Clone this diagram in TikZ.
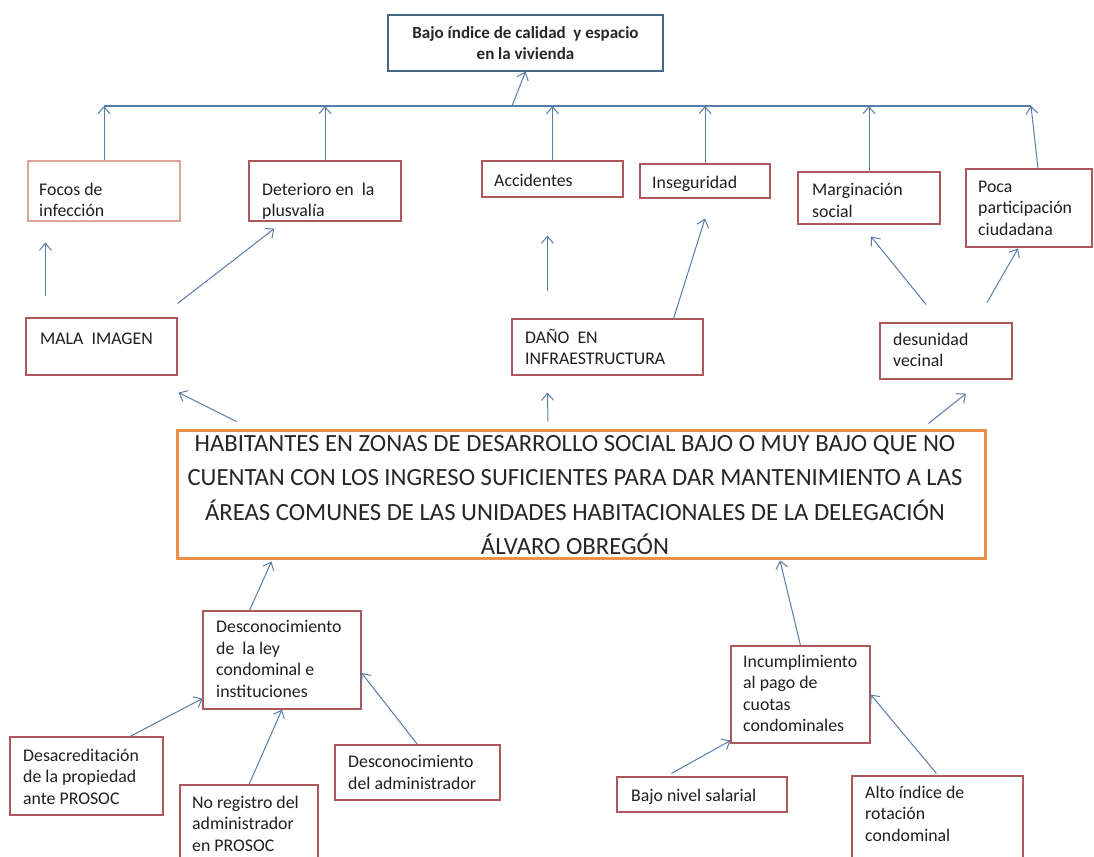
\documentclass[tikz,border=0pt]{standalone}
\usepackage{fontspec}
\setmainfont{Carlito}
\usetikzlibrary{arrows.meta,fit,calc}
\definecolor{arrowc}{RGB}{88,125,168}
\definecolor{boxc}{RGB}{172,88,92}
\definecolor{lightboxc}{RGB}{222,165,155}
\definecolor{topc}{RGB}{70,104,135}
\definecolor{mainc}{RGB}{236,145,72}
\tikzset{
  bx/.style={draw=boxc, line width=1.1pt, inner sep=0pt, fill=white},
  txt/.style={inner sep=0pt, anchor=north west, align=left, text=black!88, yshift=-3pt,
    font=\fontsize{17.8}{21.5}\selectfont, execute at begin node={\rule{0pt}{18pt}}},
  arr/.style={draw=arrowc, line width=1pt, -{Straight Barb[length=7pt,width=12pt,line width=1pt]}},
}
\begin{document}
\begin{tikzpicture}[x=1pt,y=-1pt]
\useasboundingbox (0,0) rectangle (1094,856);
\clip (0,0) rectangle (1094,856);
\fill[white] (0,0) rectangle (1094,856);

% top box
\node[draw=topc, line width=1.1pt, inner sep=0pt, fit={(388,15)(663,71)}] (top) {};
\node[align=center, font=\bfseries\fontsize{17}{20.5}\selectfont, text=black!85, inner sep=0pt] (topt) at (top.center) {Bajo índice de calidad \ y espacio\\en la vivienda};

% horizontal line
\coordinate (hl) at (104,106);
\coordinate (hr) at (1031,106);
\coordinate (hm) at (512,106);
\draw[arrowc, line width=1.1pt] (hl) -- (hr);

% effect boxes
\node[draw=lightboxc, line width=1.1pt, inner sep=0pt, fit={(28,161)(180,221)}] (focos) {};
\node[txt] (focost) at (39,179.5) {Focos de\\infección};
\node[bx, fit={(249,161)(401,221)}] (det) {};
\node[txt] (dett) at (262,179.5) {Deterioro en \ la\\plusvalía};
\node[bx, fit={(482,161)(623,197)}] (acc) {};
\node[txt] (acct) at (494,165.5) {Accidentes};
\node[bx, fit={(640,164)(770,198)}] (ins) {};
\node[txt] (inst) at (652,167.5) {Inseguridad};
\node[bx, fit={(798,172)(940,224)}] (marg) {};
\node[txt] (margt) at (812,180.5) {Marginación\\social};
\node[bx, fit={(966,169)(1092,247)}] (poca) {};
\node[txt] (pocat) at (978,177.5) {Poca\\participación\\ciudadana};

% arrows to the line
\draw[arr] (hm) -- (top.south);
\draw[arr] (focos.north) -- (focos.north |- hl);
\draw[arr] (det.north) -- (det.north |- hl);
\draw[arr] (acc.north) -- (acc.north |- hl);
\draw[arr] (ins.north) -- (ins.north |- hl);
\draw[arr] (marg.north) -- (marg.north |- hl);
\draw[arr] ([xshift=9pt]poca.north) -- (hr);

% second row
\node[bx, fit={(26,318)(177,375)}] (mala) {};
\node[txt] (malat) at (40,323.5) {MALA \ IMAGEN};
\node[bx, fit={(512,319)(703,375)}] (dano) {};
\node[txt] (danot) at (525,326) {DAÑO \ EN\\INFRAESTRUCTURA};
\node[bx, fit={(880,323)(1012,379)}] (desun) {};
\node[txt] (desunt) at (893,329.5) {desunidad\\vecinal};

\draw[arr] ([xshift=20pt,yshift=21pt]mala.north west) -- ([xshift=18pt,yshift=-21pt]focos.south west);
\draw[arr] ([yshift=14pt]mala.north east) -- ([xshift=26pt,yshift=-7pt]det.south west);
\draw[arr] ([xshift=36pt,yshift=27pt]dano.north west) -- ([xshift=66pt,yshift=-38pt]acc.south west);
\draw[arr] ([xshift=-30pt]dano.north east) -- ([yshift=-20pt]ins.south);
\draw[arr] ([xshift=-20pt,yshift=18pt]desun.north) -- ([xshift=2pt,yshift=-12pt]marg.south);
\draw[arr] ([xshift=41pt,yshift=20pt]desun.north) -- ([xshift=-11pt,yshift=-1pt]poca.south);

% main box
\node[draw=mainc, line width=3pt, inner sep=0pt, fit={(177,430)(985,558)}] (main) {};
\node[align=center, inner sep=0pt, text=black!85, font=\fontsize{24.7}{34.3}\selectfont] (maint) at ([xshift=-6pt,yshift=-1pt]main.center)
 {HABITANTES EN ZONAS DE DESARROLLO SOCIAL BAJO O MUY BAJO QUE NO\\
  CUENTAN CON LOS INGRESO SUFICIENTES PARA DAR MANTENIMIENTO A LAS\\
  ÁREAS COMUNES DE LAS UNIDADES HABITACIONALES DE LA DELEGACIÓN\\
  ÁLVARO OBREGÓN};

\draw[arr] ([xshift=61pt,yshift=7pt]main.north west) -- ([xshift=1pt,yshift=-17pt]mala.south east);
\draw[arr] ([xshift=-33pt,yshift=7pt]main.north) -- ([xshift=36pt,yshift=-17pt]dano.south west);
\draw[arr] ([xshift=-58pt,yshift=5pt]main.north east) -- ([xshift=20pt,yshift=-14pt]desun.south);

% causes left
\node[bx, fit={(203,611)(361,709)}] (desc) {};
\node[txt] (desct) at (216,617.5) {Desconocimiento\\de \ la ley\\condominal e\\instituciones};
\node[bx, fit={(10,737)(163,815)}] (desa) {};
\node[txt] (desat) at (23,745.5) {Desacreditación\\de la propiedad\\ante PROSOC};
\node[bx, fit={(180,785)(318,880)}] (nor) {};
\node[txt] (nort) at (192,792.5) {No registro del\\administrador\\en PROSOC};
\node[bx, fit={(335,745)(500,800)}] (dadm) {};
\node[txt] (dadmt) at (348,752.5) {Desconocimiento\\del administrador};

\draw[arr] ([xshift=47pt]desc.north west) -- ([xshift=96pt,yshift=-2pt]main.south west);
\draw[arr] ([xshift=43.5pt]desa.north) -- ([yshift=11pt]desc.south west);
\draw[arr] (nor.north) -- (desc.south);
\draw[arr] (dadm.north) -- ([yshift=-13pt]desc.east);

% causes right
\node[bx, fit={(731,646)(870,743)}] (inc) {};
\node[txt] (inct) at (743,651.5) {Incumplimiento\\al pago de\\cuotas\\condominales};
\node[bx, fit={(617,777)(787,812)}] (bns) {};
\node[txt] (bnst) at (631,780.5) {Bajo nivel salarial};
\node[bx, fit={(852,776)(1023,880)}] (alto) {};
\node[txt] (altot) at (865,782.5) {Alto índice de\\rotación\\condominal};

\draw[arr] (inc.north) -- ([xshift=199pt,yshift=-1pt]main.south);
\draw[arr] ([xshift=55pt,yshift=3pt]bns.north west) -- ([yshift=3pt]inc.south west);
\draw[arr] ([xshift=85pt,yshift=2pt]alto.north west) -- (inc.east);
\end{tikzpicture}
\end{document}
